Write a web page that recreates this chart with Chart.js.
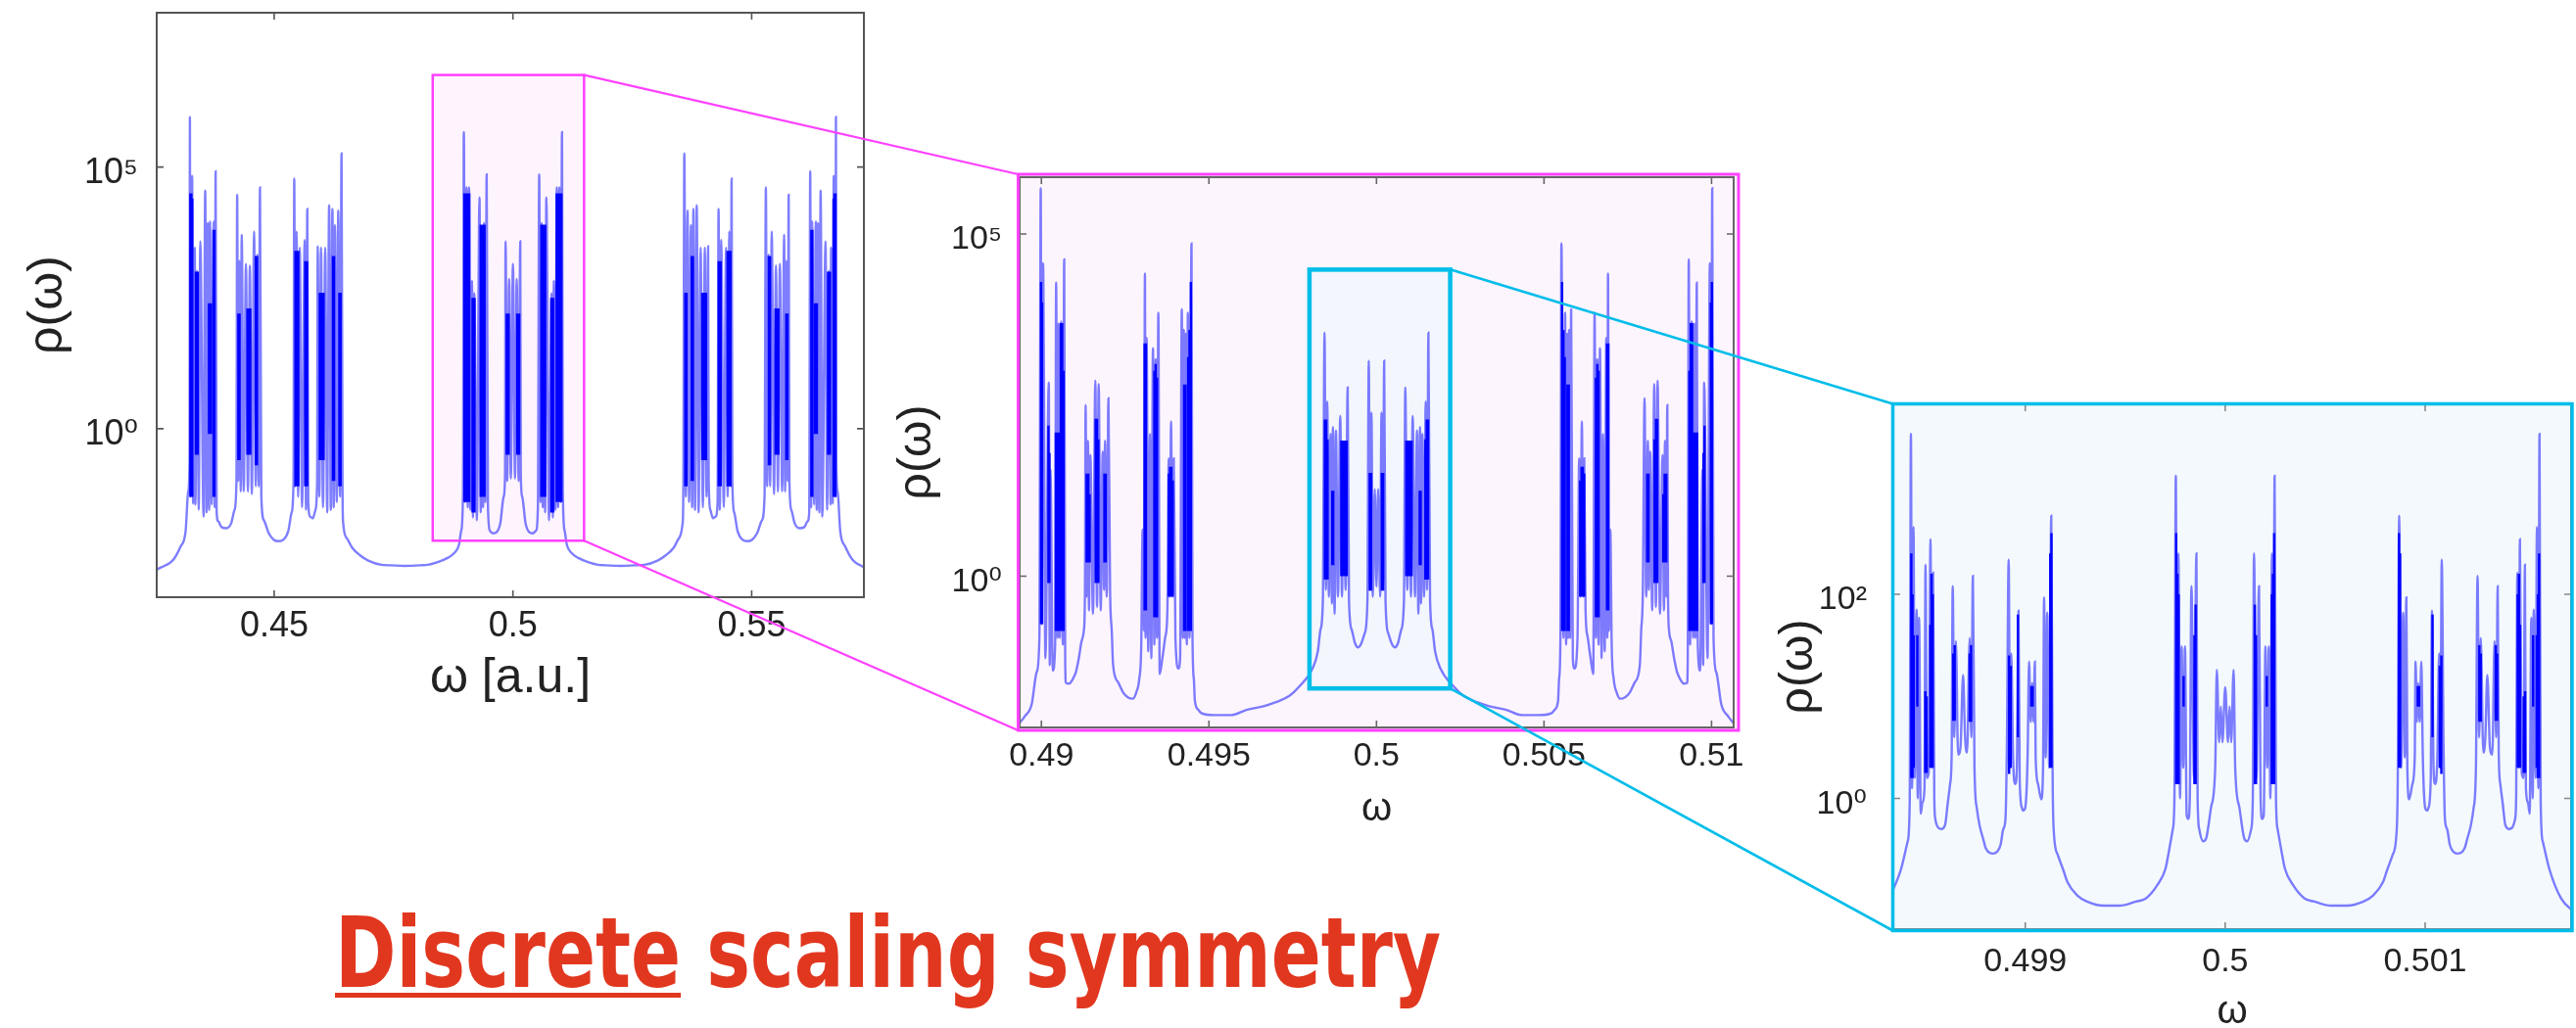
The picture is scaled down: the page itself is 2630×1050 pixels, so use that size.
<!DOCTYPE html>
<html>
<head>
<meta charset="utf-8">
<script src="https://cdn.jsdelivr.net/npm/chart.js@4.4.1/dist/chart.umd.min.js"></script>
<style>
  html, body { margin: 0; padding: 0; background: #ffffff; overflow: hidden; width: 2630px; height: 1050px; }
  canvas.panel { position: absolute; }
  #overlay { position: absolute; left: 0; top: 0; pointer-events: none; z-index: 5; }
  #title { position: absolute; left: 342px; top: 920px; white-space: nowrap; display: inline-block;
           font-family: 'Liberation Sans Narrow', 'DejaVu Sans Condensed', 'Liberation Sans', sans-serif;
           font-weight: bold; font-size: 100px; line-height: 1; color: #e1371f; transform-origin: 0 0; }
  #title u { text-decoration: underline; text-decoration-thickness: 5px; text-underline-offset: 6px; }
</style>
</head>
<body>
<canvas id="c1" class="panel" width="900" height="740" style="left:0px;top:0px"></canvas>
<canvas id="c2" class="panel" width="890" height="710" style="left:900px;top:150px"></canvas>
<canvas id="c3" class="panel" width="840" height="670" style="left:1790px;top:380px"></canvas>
<canvas id="overlay" width="2630" height="1050"></canvas>
<div id="title"><u>Discrete</u> scaling symmetry<span id="bl" style="display:inline-block;width:0;height:0"></span></div>
<script>
// ---------------- DATA (ω, log10 ρ) ----------------
const p1Spectrum = [
[0.42500,-2.72],[0.42565,-2.68],[0.42700,-2.62],[0.42873,-2.52],[0.43040,-2.25],[0.43145,-1.96],[0.43200,-1.20],[0.43228,-0.60],
[0.43235,5.96],[0.43245,-1.30],[0.43282,4.83],[0.43303,-1.43],[0.43337,3.46],[0.43350,-1.45],[0.43385,3.02],[0.43420,-1.55],
[0.43453,3.58],[0.43521,-1.68],[0.43556,4.55],[0.43583,-1.60],[0.43610,3.93],[0.43638,-1.55],[0.43658,3.96],[0.43692,-1.45],
[0.43733,3.96],[0.43754,-1.50],[0.43774,4.92],[0.43795,-1.60],[0.43829,-1.77],[0.43897,-1.88],[0.44000,-1.90],[0.44102,-1.80],
[0.44170,-1.55],[0.44210,-1.00],[0.44225,4.47],[0.44246,-1.00],[0.44273,3.21],[0.44300,-1.20],[0.44320,3.71],[0.44362,-1.20],
[0.44409,3.15],[0.44450,-1.20],[0.44491,3.12],[0.44532,-1.25],[0.44580,3.77],[0.44614,-1.10],[0.44648,3.33],[0.44676,-1.10],
[0.44703,4.61],[0.44731,-1.30],[0.44785,-1.75],[0.44888,-2.00],[0.44990,-2.12],[0.45092,-2.15],[0.45195,-2.12],[0.45297,-1.95],
[0.45366,-1.60],[0.45405,-1.00],[0.45420,4.78],[0.45442,-1.10],[0.45468,3.77],[0.45502,-1.30],[0.45536,3.46],[0.45584,-1.50],
[0.45639,3.61],[0.45666,-1.55],[0.45694,4.20],[0.45714,-1.40],[0.45755,-1.68],[0.45810,-1.71],[0.45865,-1.55],[0.45900,-1.00],
[0.45912,3.49],[0.45946,-1.30],[0.45981,3.46],[0.46022,-1.50],[0.46069,3.46],[0.46110,-1.60],[0.46151,4.27],[0.46186,-1.55],
[0.46220,4.20],[0.46247,-1.50],[0.46274,3.89],[0.46309,-1.40],[0.46343,4.17],[0.46377,-1.30],[0.46411,5.26],[0.46431,-1.10],
[0.46445,-1.80],[0.46527,-2.10],[0.46630,-2.27],[0.46800,-2.42],[0.46971,-2.52],[0.47244,-2.60],[0.47449,-2.61],[0.47722,-2.62],
[0.48064,-2.61],[0.48221,-2.60],[0.48426,-2.55],[0.48630,-2.47],[0.48767,-2.38],[0.48870,-2.22],[0.48917,-1.95],[0.48955,-1.20],
[0.48972,5.67],[0.48999,-1.40],[0.49027,4.61],[0.49054,-1.50],[0.49081,4.61],[0.49109,-1.55],[0.49143,2.83],[0.49163,-1.70],
[0.49191,2.59],[0.49245,-1.75],[0.49300,4.42],[0.49327,-1.60],[0.49355,3.60],[0.49375,-1.50],[0.49396,3.93],[0.49423,-1.40],
[0.49450,4.86],[0.49477,-1.50],[0.49518,-1.95],[0.49587,-2.00],[0.49655,-1.98],[0.49737,-1.80],[0.49805,-1.30],[0.49835,-0.90],
[0.49846,3.58],[0.49880,-1.00],[0.49921,2.86],[0.49956,-0.95],[0.50000,3.15],
[0.50044,-0.95],[0.50079,2.86],[0.50120,-1.00],[0.50154,3.58],[0.50165,-0.90],[0.50195,-1.30],[0.50263,-1.80],[0.50345,-1.98],
[0.50413,-2.00],[0.50482,-1.95],[0.50523,-1.50],[0.50550,4.86],[0.50577,-1.40],[0.50604,3.93],[0.50625,-1.50],[0.50645,3.60],
[0.50673,-1.60],[0.50700,4.42],[0.50755,-1.75],[0.50809,2.59],[0.50837,-1.70],[0.50857,2.83],[0.50891,-1.55],[0.50919,4.61],
[0.50946,-1.50],[0.50973,4.61],[0.51001,-1.40],[0.51028,5.67],[0.51045,-1.20],[0.51083,-1.95],[0.51130,-2.22],[0.51233,-2.38],
[0.51370,-2.47],[0.51574,-2.55],[0.51779,-2.60],[0.51936,-2.61],[0.52278,-2.62],[0.52551,-2.61],[0.52756,-2.60],[0.53029,-2.52],
[0.53200,-2.42],[0.53370,-2.27],[0.53473,-2.10],[0.53555,-1.80],[0.53569,-1.10],[0.53589,5.26],[0.53623,-1.30],[0.53657,4.17],
[0.53691,-1.40],[0.53726,3.89],[0.53753,-1.50],[0.53780,4.20],[0.53814,-1.55],[0.53849,4.27],[0.53890,-1.60],[0.53931,3.46],
[0.53978,-1.50],[0.54019,3.46],[0.54054,-1.30],[0.54088,3.49],[0.54100,-1.00],[0.54135,-1.55],[0.54190,-1.71],[0.54245,-1.68],
[0.54286,-1.40],[0.54306,4.20],[0.54334,-1.55],[0.54361,3.61],[0.54416,-1.50],[0.54464,3.46],[0.54498,-1.30],[0.54532,3.77],
[0.54558,-1.10],[0.54580,4.78],[0.54595,-1.00],[0.54634,-1.60],[0.54703,-1.95],[0.54805,-2.12],[0.54908,-2.15],[0.55010,-2.12],
[0.55112,-2.00],[0.55215,-1.75],[0.55269,-1.30],[0.55297,4.61],[0.55324,-1.10],[0.55352,3.33],[0.55386,-1.10],[0.55420,3.77],
[0.55468,-1.25],[0.55509,3.12],[0.55550,-1.20],[0.55591,3.15],[0.55638,-1.20],[0.55680,3.71],[0.55700,-1.20],[0.55727,3.21],
[0.55754,-1.00],[0.55775,4.47],[0.55790,-1.00],[0.55830,-1.55],[0.55898,-1.80],[0.56000,-1.90],[0.56103,-1.88],[0.56171,-1.77],
[0.56205,-1.60],[0.56226,4.92],[0.56246,-1.50],[0.56267,3.96],[0.56308,-1.45],[0.56342,3.96],[0.56362,-1.55],[0.56390,3.93],
[0.56417,-1.60],[0.56444,4.55],[0.56479,-1.68],[0.56547,3.58],[0.56580,-1.55],[0.56615,3.02],[0.56650,-1.45],[0.56663,3.46],
[0.56697,-1.43],[0.56718,4.83],[0.56755,-1.30],[0.56765,5.96],[0.56772,-0.60],[0.56800,-1.20],[0.56855,-1.96],[0.56960,-2.25],
[0.57127,-2.52],[0.57300,-2.62],[0.57435,-2.68],[0.57500,-2.72]
];
// dense (saturated) bands: ω, log10 ρ low, log10 ρ high
const p1Dense = [
[0.43245,-1.3,4.5],[0.43265,-1.3,4.5],[0.43285,-1.3,4.4],[0.43360,-0.5,3.0],[0.43380,-0.5,3.0],[0.43400,-0.5,3.0],
[0.43635,-0.1,2.4],[0.43655,-0.1,2.4],[0.43675,-0.1,2.4],[0.43730,-1.3,3.8],[0.43750,-1.3,3.8],
[0.44250,-0.6,2.2],[0.44275,-0.6,2.2],[0.44440,-0.5,2.3],[0.44460,-0.5,2.3],[0.44480,-0.5,2.3],[0.44500,-0.5,2.3],
[0.44615,-0.7,3.3],[0.44640,-0.7,3.3],
[0.45445,-1.1,3.4],[0.45465,-1.1,3.4],[0.45485,-1.1,3.4],[0.45505,-1.1,3.4],[0.45650,-1.1,3.2],[0.45670,-1.1,3.2],[0.45690,-1.1,3.2],
[0.45955,-0.6,2.6],[0.45975,-0.6,2.6],[0.45995,-0.6,2.6],[0.46015,-0.6,2.6],[0.46035,-0.6,2.6],
[0.46230,-1.0,3.3],[0.46255,-1.0,3.3],[0.46365,-1.1,2.6],[0.46390,-1.1,2.6],
[0.48985,-1.4,4.5],[0.49005,-1.4,4.5],[0.49025,-1.4,4.5],[0.49045,-1.4,4.5],[0.49065,-1.4,4.5],[0.49085,-1.4,4.5],
[0.49155,-1.6,2.5],[0.49175,-1.6,2.5],[0.49195,-1.6,2.5],
[0.49325,-1.3,3.9],[0.49345,-1.3,3.9],[0.49365,-1.3,3.9],[0.49385,-1.3,3.9],[0.49405,-1.3,3.9],
[0.49870,-0.5,2.2],[0.49890,-0.5,2.2],[0.49910,-0.5,2.2],
[0.50090,-0.5,2.2],[0.50110,-0.5,2.2],[0.50130,-0.5,2.2],
[0.50595,-1.3,3.9],[0.50615,-1.3,3.9],[0.50635,-1.3,3.9],[0.50655,-1.3,3.9],[0.50675,-1.3,3.9],
[0.50805,-1.6,2.5],[0.50825,-1.6,2.5],[0.50845,-1.6,2.5],
[0.50915,-1.4,4.5],[0.50935,-1.4,4.5],[0.50955,-1.4,4.5],[0.50975,-1.4,4.5],[0.50995,-1.4,4.5],[0.51015,-1.4,4.5],
[0.53610,-1.1,2.6],[0.53635,-1.1,2.6],[0.53745,-1.0,3.3],[0.53770,-1.0,3.3],
[0.53965,-0.6,2.6],[0.53985,-0.6,2.6],[0.54005,-0.6,2.6],[0.54025,-0.6,2.6],[0.54045,-0.6,2.6],
[0.54310,-1.1,3.2],[0.54330,-1.1,3.2],[0.54350,-1.1,3.2],[0.54495,-1.1,3.4],[0.54515,-1.1,3.4],[0.54535,-1.1,3.4],[0.54555,-1.1,3.4],
[0.55360,-0.7,3.3],[0.55385,-0.7,3.3],[0.55500,-0.5,2.3],[0.55520,-0.5,2.3],[0.55540,-0.5,2.3],[0.55560,-0.5,2.3],
[0.55725,-0.6,2.2],[0.55750,-0.6,2.2],
[0.56250,-1.3,3.8],[0.56270,-1.3,3.8],[0.56325,-0.1,2.4],[0.56345,-0.1,2.4],[0.56365,-0.1,2.4],
[0.56600,-0.5,3.0],[0.56620,-0.5,3.0],[0.56640,-0.5,3.0],[0.56715,-1.3,4.4],[0.56735,-1.3,4.5],[0.56755,-1.3,4.5]
];
const p2Spectrum = [
[0.48925,-2.20],[0.48950,-2.05],[0.48971,-1.87],[0.48986,-1.40],[0.48994,-0.90],[0.48998,5.67],[0.49001,-0.70],[0.49005,4.57],
[0.49012,-1.20],[0.49022,2.83],[0.49025,-1.30],[0.49027,1.56],[0.49034,-1.38],[0.49041,-1.00],[0.49044,4.29],[0.49048,-0.90],
[0.49051,3.69],[0.49055,-0.90],[0.49059,3.72],[0.49064,-1.00],[0.49068,4.63],[0.49071,-1.20],[0.49073,-1.56],[0.49083,-1.57],
[0.49093,-1.51],[0.49103,-1.40],[0.49112,-1.19],[0.49120,-0.95],[0.49127,-0.78],[0.49130,-0.20],[0.49132,2.50],[0.49135,-0.30],
[0.49139,1.98],[0.49142,-0.50],[0.49146,1.77],[0.49154,-0.55],[0.49161,2.86],[0.49166,-0.45],[0.49171,2.81],[0.49177,-0.50],
[0.49183,1.82],[0.49187,-0.20],[0.49190,1.98],[0.49195,-0.30],[0.49200,2.60],[0.49205,-0.20],[0.49210,-0.80],[0.49214,-1.30],
[0.49229,-1.55],[0.49244,-1.70],[0.49258,-1.77],[0.49273,-1.79],[0.49283,-1.70],[0.49292,-1.50],[0.49298,-1.00],[0.49302,0.68],
[0.49306,-0.80],[0.49309,4.42],[0.49311,-0.90],[0.49314,3.48],[0.49319,-1.10],[0.49324,2.08],[0.49328,-1.20],[0.49333,3.33],
[0.49337,-1.00],[0.49341,3.17],[0.49345,-0.90],[0.49349,3.85],[0.49353,-1.43],[0.49361,-1.20],[0.49370,-0.88],[0.49376,-0.50],
[0.49380,1.72],[0.49383,-0.30],[0.49387,2.26],[0.49391,-0.30],[0.49395,1.72],[0.49400,-0.90],[0.49409,-1.35],[0.49414,-1.20],
[0.49419,3.90],[0.49422,-0.90],[0.49425,3.60],[0.49428,-0.90],[0.49431,3.54],[0.49434,-1.00],[0.49437,3.85],[0.49442,-0.90],
[0.49448,4.86],[0.49451,-0.90],[0.49455,-1.50],[0.49458,-1.82],[0.49468,-1.95],[0.49477,-2.00],[0.49516,-2.03],[0.49565,-2.03],
[0.49614,-1.95],[0.49663,-1.90],[0.49700,-1.84],[0.49740,-1.75],[0.49770,-1.61],[0.49809,-1.35],[0.49825,-1.10],[0.49833,-0.78],
[0.49840,-0.36],[0.49845,3.56],[0.49849,-0.20],[0.49853,2.55],[0.49858,-0.30],[0.49863,2.08],[0.49867,-0.40],[0.49870,2.18],
[0.49875,-0.55],[0.49879,2.13],[0.49885,-0.30],[0.49892,2.34],[0.49897,-0.30],[0.49902,1.93],[0.49908,-0.20],[0.49914,2.76],
[0.49918,-0.36],[0.49926,-0.78],[0.49936,-0.98],[0.49945,-1.04],[0.49955,-0.98],[0.49965,-0.83],[0.49973,-0.36],[0.49977,3.15],
[0.49981,-0.20],[0.49985,2.39],[0.49989,-0.30],[0.49995,1.27],[0.50000,-0.15],
[0.50005,1.27],[0.50011,-0.30],[0.50015,2.39],[0.50019,-0.20],[0.50023,3.15],[0.50027,-0.36],[0.50035,-0.83],[0.50045,-0.98],
[0.50055,-1.04],[0.50064,-0.98],[0.50074,-0.78],[0.50082,-0.36],[0.50086,2.76],[0.50092,-0.20],[0.50098,1.93],[0.50103,-0.30],
[0.50108,2.34],[0.50115,-0.30],[0.50121,2.13],[0.50125,-0.55],[0.50130,2.18],[0.50133,-0.40],[0.50137,2.08],[0.50142,-0.30],
[0.50147,2.55],[0.50151,-0.20],[0.50155,3.56],[0.50160,-0.36],[0.50167,-0.78],[0.50175,-1.10],[0.50191,-1.35],[0.50230,-1.61],
[0.50260,-1.75],[0.50300,-1.84],[0.50337,-1.90],[0.50386,-1.95],[0.50435,-2.03],[0.50484,-2.03],[0.50523,-2.00],[0.50532,-1.95],
[0.50542,-1.82],[0.50545,-1.50],[0.50549,-0.90],[0.50552,4.86],[0.50558,-0.90],[0.50563,3.85],[0.50566,-1.00],[0.50569,3.54],
[0.50572,-0.90],[0.50575,3.60],[0.50578,-0.90],[0.50581,3.90],[0.50586,-1.20],[0.50591,-1.35],[0.50600,-0.90],[0.50605,1.72],
[0.50609,-0.30],[0.50613,2.26],[0.50617,-0.30],[0.50620,1.72],[0.50624,-0.50],[0.50630,-0.88],[0.50639,-1.20],[0.50647,-1.43],
[0.50651,3.85],[0.50655,-0.90],[0.50659,3.17],[0.50663,-1.00],[0.50667,3.33],[0.50672,-1.20],[0.50676,2.08],[0.50681,-1.10],
[0.50686,3.48],[0.50689,-0.90],[0.50691,4.42],[0.50694,-0.80],[0.50698,0.68],[0.50702,-1.00],[0.50708,-1.50],[0.50717,-1.70],
[0.50727,-1.79],[0.50742,-1.77],[0.50756,-1.70],[0.50771,-1.55],[0.50786,-1.30],[0.50790,-0.80],[0.50795,-0.20],[0.50800,2.60],
[0.50805,-0.30],[0.50810,1.98],[0.50813,-0.20],[0.50817,1.82],[0.50823,-0.50],[0.50829,2.81],[0.50834,-0.45],[0.50839,2.86],
[0.50846,-0.55],[0.50854,1.77],[0.50858,-0.50],[0.50861,1.98],[0.50865,-0.30],[0.50868,2.50],[0.50870,-0.20],[0.50873,-0.78],
[0.50880,-0.95],[0.50888,-1.19],[0.50897,-1.40],[0.50907,-1.51],[0.50917,-1.57],[0.50927,-1.56],[0.50929,-1.20],[0.50932,4.63],
[0.50936,-1.00],[0.50941,3.72],[0.50945,-0.90],[0.50949,3.69],[0.50952,-0.90],[0.50956,4.29],[0.50959,-1.00],[0.50966,-1.38],
[0.50973,1.56],[0.50975,-1.30],[0.50978,2.83],[0.50988,-1.20],[0.50995,4.57],[0.50999,-0.70],[0.51002,5.67],[0.51006,-0.90],
[0.51014,-1.40],[0.51029,-1.87],[0.51050,-2.05],[0.51075,-2.20]
];
const p2Dense = [
[0.48999,-0.7,4.3],[0.49002,-0.7,4.0],[0.49021,-0.1,2.2],[0.49024,-0.1,1.8],[0.49043,-0.8,2.1],[0.49047,-0.8,2.1],[0.49051,-0.8,2.1],
[0.49058,-0.8,3.7],[0.49062,-0.8,3.7],[0.49066,-0.8,3.0],
[0.49135,0.2,1.5],[0.49140,0.2,1.5],[0.49144,0.2,1.2],[0.49162,-0.1,2.3],[0.49166,-0.1,2.3],[0.49170,-0.1,2.0],[0.49188,0.2,1.5],[0.49192,0.2,1.5],
[0.49308,-0.5,3.4],[0.49312,-0.5,3.4],[0.49337,-0.6,3.0],[0.49341,-0.6,3.1],[0.49345,-0.6,2.9],
[0.49380,-0.3,1.5],[0.49384,-0.3,1.6],[0.49388,-0.3,1.6],[0.49392,-0.3,1.4],[0.49426,-0.8,2.8],[0.49430,-0.8,2.8],[0.49438,-0.8,3.2],
[0.49442,-0.8,3.6],[0.49446,-0.8,4.3],
[0.49846,-0.05,2.29],[0.49850,-0.05,2.29],[0.49854,-0.05,2.0],[0.49868,0.16,1.25],[0.49871,0.16,1.25],
[0.49895,0.0,1.98],[0.49899,0.0,1.98],[0.49903,0.0,1.98],[0.49907,0.0,1.98],[0.49911,0.0,1.98],
[0.49980,-0.21,1.51],[0.49984,-0.21,1.51],[0.50016,-0.21,1.51],[0.50020,-0.21,1.51],
[0.50089,0.0,1.98],[0.50093,0.0,1.98],[0.50097,0.0,1.98],[0.50101,0.0,1.98],[0.50105,0.0,1.98],[0.50129,0.16,1.25],[0.50132,0.16,1.25],
[0.50146,-0.05,2.0],[0.50150,-0.05,2.29],[0.50154,-0.05,2.29],
[0.50554,-0.8,4.3],[0.50558,-0.8,3.6],[0.50562,-0.8,3.2],[0.50570,-0.8,2.8],[0.50574,-0.8,2.8],[0.50608,-0.3,1.4],[0.50612,-0.3,1.6],
[0.50616,-0.3,1.6],[0.50620,-0.3,1.5],
[0.50655,-0.6,2.9],[0.50659,-0.6,3.1],[0.50663,-0.6,3.0],[0.50688,-0.5,3.4],[0.50692,-0.5,3.4],
[0.50808,0.2,1.5],[0.50812,0.2,1.5],[0.50830,-0.1,2.0],[0.50834,-0.1,2.3],[0.50838,-0.1,2.3],[0.50856,0.2,1.2],[0.50860,0.2,1.5],[0.50865,0.2,1.5],
[0.50934,-0.8,3.0],[0.50938,-0.8,3.7],[0.50942,-0.8,3.7],[0.50949,-0.8,2.1],[0.50953,-0.8,2.1],[0.50957,-0.8,2.1],[0.50976,-0.1,1.8],
[0.50979,-0.1,2.2],[0.50998,-0.7,4.0],[0.51001,-0.7,4.3]
];
const p3Spectrum = [
[0.49832,-0.98],[0.498379,-0.69],[0.498412,-0.42],[0.498422,-0.05],[0.498428,3.57],[0.498434,0.10],[0.498441,2.66],[0.498447,0.20],
[0.498457,1.85],[0.498462,0.00],[0.498469,1.77],[0.498477,-0.15],[0.498486,-0.04],[0.498496,0.10],[0.498501,2.29],[0.498508,0.20],
[0.498517,0.25],[0.498526,2.54],[0.498532,0.30],[0.498539,2.21],[0.498545,0.00],[0.498550,-0.20],[0.498567,-0.29],[0.498580,-0.30],
[0.498599,-0.26],[0.498612,-0.05],[0.498624,0.14],[0.498632,0.45],[0.498637,2.08],[0.498645,0.60],[0.498653,1.54],[0.498664,0.43],
[0.498676,0.50],[0.498689,1.21],[0.498699,0.60],[0.498709,0.45],[0.498722,1.57],[0.498730,0.60],[0.498738,2.18],[0.498746,0.30],
[0.498758,-0.10],[0.498771,-0.26],[0.498790,-0.40],[0.498803,-0.49],[0.498836,-0.54],[0.498860,-0.52],[0.498877,-0.45],[0.498890,-0.30],
[0.498901,-0.20],[0.498908,0.50],[0.498917,2.34],[0.498924,0.30],[0.498930,1.42],[0.498939,0.40],[0.498950,0.14],[0.498958,0.30],
[0.498966,1.84],[0.498972,0.20],[0.498983,-0.09],[0.498990,-0.12],[0.498999,-0.10],[0.499007,0.10],[0.499012,0.45],[0.499019,1.34],
[0.499027,0.75],[0.499035,1.13],[0.499041,0.75],[0.499048,1.34],[0.499052,0.40],[0.499064,0.14],[0.499080,-0.01],[0.499089,0.30],
[0.499094,1.97],[0.499102,0.40],[0.499110,1.82],[0.499120,0.30],[0.499130,2.77],[0.499137,0.20],[0.499142,-0.30],[0.499162,-0.55],
[0.499190,-0.70],[0.499211,-0.82],[0.499260,-0.95],[0.499309,-1.01],[0.499391,-1.05],[0.499472,-1.05],[0.499554,-1.01],[0.499603,-0.98],
[0.499660,-0.85],[0.499701,-0.69],[0.499720,-0.50],[0.499738,-0.30],[0.499746,0.00],[0.499753,3.16],[0.499759,0.20],[0.499766,2.40],
[0.499774,0.00],[0.499782,1.49],[0.499790,0.30],[0.499799,1.49],[0.499807,-0.16],[0.499815,-0.20],[0.499823,0.00],[0.499831,2.08],
[0.499844,0.20],[0.499856,2.40],[0.499862,0.00],[0.499870,-0.30],[0.499890,-0.42],[0.499905,-0.39],[0.499929,-0.09],[0.499950,0.30],
[0.499958,1.26],[0.499970,0.55],[0.499978,0.90],[0.499986,0.55],[0.500000,1.09],
[0.500014,0.55],[0.500022,0.90],[0.500030,0.55],[0.500042,1.26],[0.500050,0.30],[0.500071,-0.09],[0.500095,-0.39],[0.500110,-0.42],
[0.500130,-0.30],[0.500138,0.00],[0.500144,2.40],[0.500156,0.20],[0.500169,2.08],[0.500177,0.00],[0.500185,-0.20],[0.500193,-0.16],
[0.500201,1.49],[0.500210,0.30],[0.500218,1.49],[0.500226,0.00],[0.500234,2.40],[0.500241,0.20],[0.500247,3.16],[0.500254,0.00],
[0.500262,-0.30],[0.500280,-0.50],[0.500299,-0.69],[0.500340,-0.85],[0.500397,-0.98],[0.500446,-1.01],[0.500528,-1.05],[0.500609,-1.05],
[0.500691,-1.01],[0.500740,-0.95],[0.500789,-0.82],[0.500810,-0.70],[0.500838,-0.55],[0.500858,-0.30],[0.500863,0.20],[0.500870,2.77],
[0.500880,0.30],[0.500890,1.82],[0.500898,0.40],[0.500906,1.97],[0.500911,0.30],[0.500920,-0.01],[0.500936,0.14],[0.500948,0.40],
[0.500952,1.34],[0.500959,0.75],[0.500965,1.13],[0.500973,0.75],[0.500981,1.34],[0.500988,0.45],[0.500993,0.10],[0.501001,-0.10],
[0.501010,-0.12],[0.501017,-0.09],[0.501028,0.20],[0.501034,1.84],[0.501042,0.30],[0.501050,0.14],[0.501061,0.40],[0.501070,1.42],
[0.501076,0.30],[0.501083,2.34],[0.501092,0.50],[0.501099,-0.20],[0.501110,-0.30],[0.501123,-0.45],[0.501140,-0.52],[0.501164,-0.54],
[0.501197,-0.49],[0.501210,-0.40],[0.501229,-0.26],[0.501242,-0.10],[0.501254,0.30],[0.501262,2.18],[0.501270,0.60],[0.501278,1.57],
[0.501291,0.45],[0.501301,0.60],[0.501311,1.21],[0.501324,0.50],[0.501336,0.43],[0.501347,1.54],[0.501355,0.60],[0.501363,2.08],
[0.501368,0.45],[0.501376,0.14],[0.501388,-0.05],[0.501401,-0.26],[0.501420,-0.30],[0.501433,-0.29],[0.501450,-0.20],[0.501455,0.00],
[0.501461,2.21],[0.501468,0.30],[0.501474,2.54],[0.501483,0.25],[0.501492,0.20],[0.501499,2.29],[0.501504,0.10],[0.501514,-0.04],
[0.501523,-0.15],[0.501531,1.77],[0.501538,0.00],[0.501543,1.85],[0.501553,0.20],[0.501559,2.66],[0.501566,0.10],[0.501572,3.57],
[0.501578,-0.05],[0.501588,-0.42],[0.501621,-0.69],[0.501680,-0.98],[0.501750,-1.12]
];
const p3Dense = [
[0.498430,0.20,2.40],[0.498436,0.20,2.00],[0.498442,0.30,1.60],[0.498460,0.90,1.60],[0.498500,0.25,1.05],[0.498507,0.25,1.00],
[0.498525,0.30,1.70],[0.498531,0.30,2.20],[0.498537,0.30,2.00],[0.498640,0.76,1.42],[0.498647,0.76,1.50],[0.498722,0.75,1.42],
[0.498729,0.75,1.50],[0.498919,0.24,1.40],[0.498927,0.30,1.30],[0.498963,0.60,1.80],[0.499030,0.90,1.10],[0.499037,0.90,1.10],
[0.499125,0.30,2.40],[0.499131,0.30,2.60],[0.499755,0.14,2.60],[0.499761,0.14,2.20],[0.499767,0.14,2.00],[0.499792,0.90,1.20],
[0.499846,0.14,1.60],[0.499852,0.14,1.90],
[0.500148,0.14,1.90],[0.500154,0.14,1.60],[0.500208,0.90,1.20],[0.500233,0.14,2.00],[0.500239,0.14,2.20],[0.500245,0.14,2.60],
[0.500869,0.30,2.60],[0.500875,0.30,2.40],[0.500963,0.90,1.10],[0.500970,0.90,1.10],[0.501037,0.60,1.80],[0.501073,0.30,1.30],
[0.501081,0.24,1.40],[0.501271,0.75,1.50],[0.501278,0.75,1.42],[0.501353,0.76,1.50],[0.501360,0.76,1.42],[0.501463,0.30,2.00],
[0.501469,0.30,2.20],[0.501475,0.30,1.70],[0.501493,0.25,1.00],[0.501500,0.25,1.05],[0.501540,0.90,1.60],[0.501558,0.30,1.60],
[0.501564,0.20,2.00],[0.501570,0.20,2.40]
];

// axis ranges (ω) and (log10 ρ)
const p1XRange = [0.4254, 0.5735], p1YLogRange = [-3.22, 7.95];
const p2XRange = [0.48935, 0.51066], p2YLogRange = [-2.21, 5.83];
const p3XRange = [0.49834, 0.50173], p3YLogRange = [-1.28, 3.86];
// ticks
const p1XTicks = [0.45, 0.5, 0.55], p1XLabels = ['0.45', '0.5', '0.55'];
const p1YTicks = [1, 1e5], p1YLabels = ['10⁰', '10⁵'];
const p2XTicks = [0.49, 0.495, 0.5, 0.505, 0.51], p2XLabels = ['0.49', '0.495', '0.5', '0.505', '0.51'];
const p2YTicks = [1, 1e5], p2YLabels = ['10⁰', '10⁵'];
const p3XTicks = [0.499, 0.5, 0.501], p3XLabels = ['0.499', '0.5', '0.501'];
const p3YTicks = [1, 100], p3YLabels = ['10⁰', '10²'];
// zoom windows (ω range, log10 ρ range)
const p1ZoomX = [0.4832, 0.5149], p1ZoomLogY = [-2.14, 6.76];
const p2ZoomX = [0.49800, 0.50220], p2ZoomLogY = [-1.64, 4.48];
// texts
const p1XTitle = 'ω [a.u.]', p2XTitle = 'ω', p3XTitle = 'ω', yTitle = 'ρ(ω)';

// ---------------- STYLE ----------------
const LIGHT = 'rgba(40,40,255,0.6)';
const DARK = '#0000ff';
const MAGENTA = '#ff40ff';
const CYAN = '#00bde9';
const TXT = '#222222';
const FAM = "'Liberation Sans', Arial, 'DejaVu Sans', sans-serif";

const decorCfg = {
  c1: { frame: '#555555', tickLen: 7,
        box: { x: p1ZoomX, logY: p1ZoomLogY, fill: '#fdf4fd', stroke: MAGENTA, width: 2.5 } },
  c2: { frame: '#666666', tickLen: 7, panelFill: '#fdf5fd', pad: [1.5, 3, 5, 3],
        border: { color: MAGENTA, width: 3 },
        box: { x: p2ZoomX, logY: p2ZoomLogY, fill: '#f3f6fc', stroke: CYAN, width: 4.5 } },
  c3: { frame: '#888888', tickLen: 7, panelFill: '#f4f9fd', pad: [0.5, 0.5, 1, 1.5],
        border: { color: CYAN, width: 3.5 } }
};

function zoomRect(chart, box) {
  const sx = chart.scales.x, sy = chart.scales.y;
  return { l: sx.getPixelForValue(box.x[0]), r: sx.getPixelForValue(box.x[1]),
           t: sy.getPixelForValue(10 ** box.logY[1]), b: sy.getPixelForValue(10 ** box.logY[0]) };
}

const decor = {
  id: 'decor',
  beforeDraw(chart) {
    const o = decorCfg[chart.canvas.id]; if (!o || !o.panelFill) return;
    const {ctx, chartArea: a} = chart; const p = o.pad;
    ctx.save(); ctx.fillStyle = o.panelFill;
    ctx.fillRect(a.left - p[0], a.top - p[1], a.right - a.left + p[0] + p[2], a.bottom - a.top + p[1] + p[3]);
    ctx.restore();
  },
  beforeDatasetsDraw(chart) {
    const o = decorCfg[chart.canvas.id]; if (!o || !o.box) return;
    const {ctx} = chart; const r = zoomRect(chart, o.box);
    ctx.save(); ctx.fillStyle = o.box.fill; ctx.fillRect(r.l, r.t, r.r - r.l, r.b - r.t); ctx.restore();
  },
  afterDatasetsDraw(chart) {
    const o = decorCfg[chart.canvas.id]; if (!o) return;
    const {ctx, chartArea: a} = chart;
    ctx.save();
    ctx.strokeStyle = o.frame; ctx.lineWidth = 2;
    ctx.strokeRect(a.left, a.top, a.right - a.left, a.bottom - a.top);
    ctx.lineWidth = 1.6; ctx.beginPath();
    chart.scales.x.ticks.forEach(t => {
      const px = chart.scales.x.getPixelForValue(t.value);
      ctx.moveTo(px, a.bottom); ctx.lineTo(px, a.bottom - o.tickLen);
      ctx.moveTo(px, a.top); ctx.lineTo(px, a.top + o.tickLen);
    });
    chart.scales.y.ticks.forEach(t => {
      const py = chart.scales.y.getPixelForValue(t.value);
      ctx.moveTo(a.left, py); ctx.lineTo(a.left + o.tickLen, py);
      ctx.moveTo(a.right, py); ctx.lineTo(a.right - o.tickLen, py);
    });
    ctx.stroke();
    if (o.box) {
      const r = zoomRect(chart, o.box);
      ctx.strokeStyle = o.box.stroke; ctx.lineWidth = o.box.width;
      ctx.strokeRect(r.l, r.t, r.r - r.l, r.b - r.t);
    }
    if (o.border) {
      const p = o.pad;
      ctx.strokeStyle = o.border.color; ctx.lineWidth = o.border.width;
      ctx.strokeRect(a.left - p[0], a.top - p[1], a.right - a.left + p[0] + p[2], a.bottom - a.top + p[1] + p[3]);
    }
    ctx.restore();
  }
};

function makeChart(id, c) {
  return new Chart(document.getElementById(id), {
    type: 'line',
    plugins: [decor],
    data: {
      datasets: [
        { data: c.spectrum.map(([x, l]) => ({ x, y: 10 ** l })), borderColor: LIGHT, borderWidth: 2.4,
          cubicInterpolationMode: 'monotone', pointRadius: 0, order: 1 },
        { data: c.dense.flatMap(([x, lo, hi]) => [{ x, y: 10 ** lo }, { x, y: 10 ** hi }, { x, y: null }]),
          borderColor: DARK, borderWidth: 2.4, tension: 0, pointRadius: 0, spanGaps: false, order: 0 }
      ]
    },
    options: {
      responsive: false, animation: false, devicePixelRatio: 1, events: [],
      layout: { padding: { top: c.padTop, right: c.padRight, left: 0, bottom: 0 } },
      plugins: { legend: { display: false }, tooltip: { enabled: false } },
      scales: {
        x: {
          type: 'linear', position: 'bottom', min: c.xRange[0], max: c.xRange[1], bounds: 'data',
          grid: { display: false, drawTicks: false }, border: { display: false },
          afterFit: s => { s.height = c.xAxisH; s.paddingLeft = 0; s.paddingRight = 0; },
          afterBuildTicks: s => { s.ticks = c.xTicks.map(v => ({ value: v })); },
          ticks: { autoSkip: false, maxRotation: 0, minRotation: 0, padding: c.xTickPad, color: TXT,
                   font: { family: FAM, size: c.tickSize, lineHeight: 1 }, callback: (v, i) => c.xLabels[i] },
          title: { display: true, text: c.xTitle, color: TXT,
                   font: { family: FAM, size: c.xTitleSize, lineHeight: c.xTitleLH },
                   padding: { top: 0, bottom: c.xTitlePad } }
        },
        y: {
          type: 'logarithmic', position: 'left', min: 10 ** c.yLogRange[0], max: 10 ** c.yLogRange[1], bounds: 'data',
          grid: { display: false, drawTicks: false }, border: { display: false },
          afterFit: s => { s.width = c.yAxisW; s.paddingTop = 0; s.paddingBottom = 0; },
          afterBuildTicks: s => { s.ticks = c.yTicks.map(v => ({ value: v })); },
          ticks: { autoSkip: false, padding: c.yTickPad, labelOffset: 6, color: TXT,
                   font: { family: FAM, size: c.tickSize, lineHeight: 1 }, callback: (v, i) => c.yLabels[i] },
          title: { display: true, text: yTitle, color: TXT, font: { family: FAM, size: c.yTitleSize, lineHeight: 1 },
                   padding: { top: c.yTitlePad, bottom: 0 } }
        }
      }
    }
  });
}

const ch1 = makeChart('c1', { spectrum: p1Spectrum, dense: p1Dense, xRange: p1XRange, yLogRange: p1YLogRange,
  xTicks: p1XTicks, xLabels: p1XLabels, yTicks: p1YTicks, yLabels: p1YLabels, xTitle: p1XTitle,
  padTop: 13, padRight: 18, xAxisH: 130, yAxisW: 160, tickSize: 36, xTickPad: 12, yTickPad: 19,
  xTitleSize: 50, xTitleLH: 1, xTitlePad: 22, yTitleSize: 50, yTitlePad: 24 });
const ch2 = makeChart('c2', { spectrum: p2Spectrum, dense: p2Dense, xRange: p2XRange, yLogRange: p2YLogRange,
  xTicks: p2XTicks, xLabels: p2XLabels, yTicks: p2YTicks, yLabels: p2YLabels, xTitle: p2XTitle,
  padTop: 31, padRight: 20, xAxisH: 117, yAxisW: 141, tickSize: 34, xTickPad: 13, yTickPad: 18,
  xTitleSize: 40, xTitleLH: 1, xTitlePad: 13, yTitleSize: 48, yTitlePad: 13 });
const ch3 = makeChart('c3', { spectrum: p3Spectrum, dense: p3Dense, xRange: p3XRange, yLogRange: p3YLogRange,
  xTicks: p3XTicks, xLabels: p3XLabels, yTicks: p3YTicks, yLabels: p3YLabels, xTitle: p3XTitle,
  padTop: 33, padRight: 5, xAxisH: 101, yAxisW: 143, tickSize: 34, xTickPad: 17, yTickPad: 27,
  xTitleSize: 40, xTitleLH: 0.8, xTitlePad: 0, yTitleSize: 48, yTitlePad: 23 });

// ---------------- connectors between panels ----------------
(function drawConnectors() {
  const ov = document.getElementById('overlay').getContext('2d');
  const page = (chart, x, y) => [chart.canvas.offsetLeft + x, chart.canvas.offsetTop + y];
  function zoomCorners(chart, box) {
    const r = zoomRect(chart, box);
    return [page(chart, r.r, r.t), page(chart, r.r, r.b)];
  }
  function borderCorners(chart, id) {
    const a = chart.chartArea, p = decorCfg[id].pad;
    return [page(chart, a.left - p[0], a.top - p[1]), page(chart, a.left - p[0], a.bottom + p[3])];
  }
  function link(from, to, color, w) {
    ov.strokeStyle = color; ov.lineWidth = w; ov.beginPath();
    ov.moveTo(from[0][0], from[0][1]); ov.lineTo(to[0][0], to[0][1]);
    ov.moveTo(from[1][0], from[1][1]); ov.lineTo(to[1][0], to[1][1]);
    ov.stroke();
  }
  link(zoomCorners(ch1, decorCfg.c1.box), borderCorners(ch2, 'c2'), MAGENTA, 2.2);
  link(zoomCorners(ch2, decorCfg.c2.box), borderCorners(ch3, 'c3'), CYAN, 2.6);
})();

// ---------------- caption placement ----------------
(function placeTitle() {
  const title = document.getElementById('title');
  const bl = document.getElementById('bl');
  const targetBaseline = 1008, targetWidth = 1129;
  const tr = title.getBoundingClientRect();
  const baseOffset = bl.getBoundingClientRect().bottom - tr.top;
  title.style.top = (targetBaseline - baseOffset) + 'px';
  title.style.transform = 'scaleX(' + (targetWidth / tr.width) + ')';
})();
</script>
</body>
</html>
